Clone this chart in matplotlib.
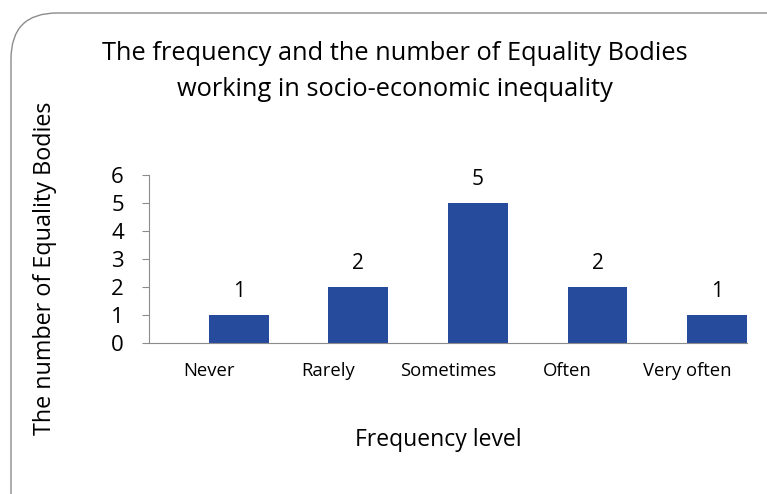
import matplotlib
matplotlib.use("Agg")
import matplotlib.pyplot as plt
from matplotlib.patches import FancyBboxPatch

categories = ["Never", "Rarely", "Sometimes", "Often", "Very often"]
values = [1, 2, 5, 2, 1]
yticks = [0, 1, 2, 3, 4, 5, 6]

plt.rcParams['font.family'] = ['Open Sans', 'DejaVu Sans']

W, H = 767, 494
fig = plt.figure(figsize=(W / 100, H / 100), dpi=100)

# rounded border extending past right/bottom edges
border = FancyBboxPatch((11 / W, -0.2), 1.1, (1 - 13 / H) + 0.2,
                        boxstyle="round,pad=0,rounding_size=0.06",
                        transform=fig.transFigure, facecolor="none",
                        edgecolor="#8c8c8c", linewidth=1.0, mutation_aspect=W / H)
fig.patches.append(border)

ax = fig.add_axes([149 / W, 1 - 343 / H, (747 - 149) / W, (343 - 175) / H])
x = list(range(len(categories)))
bars = ax.bar(x, values, width=0.5, align='edge', color="#264A9C", zorder=2)
for xi, v in zip(x, values):
    ax.text(xi + 0.25, v + 0.45, str(v), ha='center', va='bottom', fontsize=15)

ax.set_xlim(-0.5, 4.5)
ax.set_ylim(0, 6)
ax.set_yticks(yticks)
ax.set_yticklabels([str(t) for t in yticks], fontsize=16)
ax.set_xticks(x)
ax.set_xticklabels(categories, fontsize=13.3)
ax.tick_params(axis='x', length=0, pad=14)
ax.tick_params(axis='y', length=5, color="#8c8c8c", pad=13)
for s in ['top', 'right']:
    ax.spines[s].set_visible(False)
for s in ['left', 'bottom']:
    ax.spines[s].set_color("#8c8c8c")

fig.text(395 / W, 1 - 53 / H, "The frequency and the number of Equality Bodies",
         ha='center', va='center', fontsize=18.3)
fig.text(395 / W, 1 - 89 / H, "working in socio-economic inequality",
         ha='center', va='center', fontsize=18.3)
fig.text(438 / W, 1 - 440 / H, "Frequency level", ha='center', va='center', fontsize=16.5)
fig.text(45 / W, 1 - 268 / H, "The number of Equality Bodies", ha='center', va='center',
         rotation=90, fontsize=16.8)

fig.savefig("out.png", dpi=100)
